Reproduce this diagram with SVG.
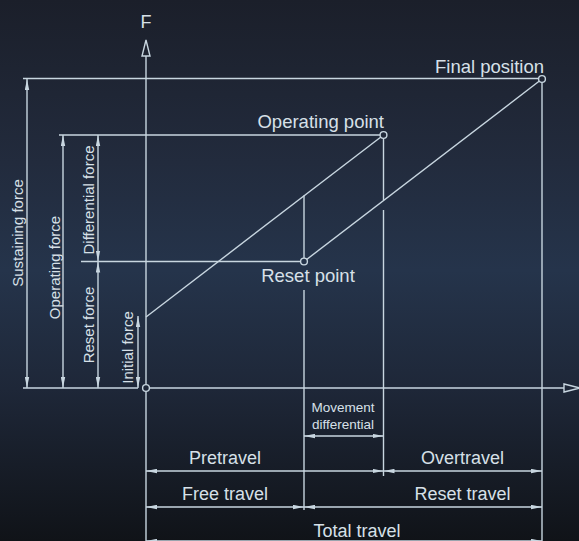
<svg xmlns="http://www.w3.org/2000/svg" width="579" height="541" viewBox="0 0 579 541">
  <defs>
    <linearGradient id="bg" gradientUnits="userSpaceOnUse" x1="0" y1="0" x2="0" y2="541">
      <stop offset="0" stop-color="#1b1f2a"/>
      <stop offset="0.3" stop-color="#222b3d"/>
      <stop offset="0.5" stop-color="#25344b"/>
      <stop offset="0.72" stop-color="#1e2738"/>
      <stop offset="1" stop-color="#101318"/>
    </linearGradient>
    <marker id="dim" viewBox="0 0 11 5" refX="11" refY="2.5" markerWidth="11" markerHeight="5" markerUnits="userSpaceOnUse" orient="auto-start-reverse">
      <path d="M0,0.3 L11,2.5 L0,4.7 z" fill="#c8d6e0"/>
    </marker>
    <style>
      .ln { stroke: #c8d6e0; stroke-width: 1.4; fill: none; }
      .dm { stroke: #c8d6e0; stroke-width: 1.4; fill: none; marker-start: url(#dim); marker-end: url(#dim); }
      .pt { stroke: #c8d6e0; stroke-width: 1.4; fill: url(#bg); }
      .t { font-family: "Liberation Sans", Arial, sans-serif; fill: #d7e0e8; }
      .big { font-size: 18.5px; }
      .mid { font-size: 18px; }
      .vert { font-size: 15px; text-anchor: middle; }
      .sm { font-size: 13.5px; text-anchor: middle; }
    </style>
  </defs>
  <rect x="0" y="0" width="579" height="541" fill="url(#bg)"/>

  <g id="connectors">
    <!-- axes -->
    <line class="ln" x1="146" y1="56" x2="146" y2="384.5"/>
    <line class="ln" x1="146" y1="391.5" x2="146" y2="541"/>
    <polygon class="ln" points="146,40 142,56 150,56"/>
    <line class="ln" x1="149.5" y1="388" x2="564" y2="388"/>
    <polygon class="ln" points="580,388 564,384 564,392"/>
    <!-- horizontal extension lines -->
    <line class="ln" x1="23" y1="78.5" x2="538.8" y2="78.5"/>
    <line class="ln" x1="59" y1="135" x2="380.3" y2="135"/>
    <line class="ln" x1="81" y1="261.5" x2="300.8" y2="261.5"/>
    <line class="ln" x1="23" y1="388" x2="138" y2="388"/>
    <!-- vertical extension lines -->
    <line class="ln" x1="304" y1="195.5" x2="304" y2="258.3"/>
    <line class="ln" x1="304" y1="290" x2="304" y2="510"/>
    <line class="ln" x1="383.5" y1="138.2" x2="383.5" y2="200"/>
    <line class="ln" x1="383.5" y1="210" x2="383.5" y2="476"/>
    <line class="ln" x1="542" y1="82.2" x2="542" y2="541"/>
    <!-- characteristic lines -->
    <line class="ln" x1="146" y1="317" x2="383.5" y2="135"/>
    <line class="ln" x1="304" y1="261.5" x2="542" y2="79"/>
    <!-- force dimensions -->
    <line class="dm" x1="27" y1="79" x2="27" y2="388"/>
    <line class="dm" x1="63" y1="135" x2="63" y2="388"/>
    <line class="dm" x1="98" y1="135" x2="98" y2="261.5"/>
    <line class="dm" x1="98" y1="261.5" x2="98" y2="388"/>
    <line class="dm" x1="138" y1="316" x2="138" y2="388"/>
    <!-- travel dimensions -->
    <line class="dm" x1="304" y1="436" x2="383.5" y2="436"/>
    <line class="dm" x1="146" y1="471" x2="383.5" y2="471"/>
    <line class="dm" x1="383.5" y1="471" x2="542" y2="471"/>
    <line class="dm" x1="146" y1="507" x2="304" y2="507"/>
    <line class="dm" x1="304" y1="507" x2="542" y2="507"/>
    <line class="dm" x1="146" y1="541" x2="542" y2="541"/>
  </g>

  <g id="axis-f">
    <text class="t mid" x="146" y="28" text-anchor="middle">F</text>
  </g>
  <g id="origin">
    <circle class="pt" cx="146" cy="388" r="3.4"/>
  </g>
  <g id="final-position">
    <circle class="pt" cx="542" cy="79" r="3.4"/>
    <text class="t big" x="544" y="73" text-anchor="end">Final position</text>
  </g>
  <g id="operating-point">
    <circle class="pt" cx="383.5" cy="135" r="3.4"/>
    <text class="t big" x="384" y="128" text-anchor="end">Operating point</text>
  </g>
  <g id="reset-point">
    <circle class="pt" cx="304" cy="261.5" r="3.4"/>
    <text class="t big" x="308" y="282" text-anchor="middle">Reset point</text>
  </g>

  <g id="sustaining-force">
    <text class="t vert" transform="translate(22.5,233) rotate(-90)">Sustaining force</text>
  </g>
  <g id="operating-force">
    <text class="t vert" transform="translate(60,267.5) rotate(-90)">Operating force</text>
  </g>
  <g id="differential-force">
    <text class="t vert" transform="translate(94,200) rotate(-90)">Differential force</text>
  </g>
  <g id="reset-force">
    <text class="t vert" transform="translate(94,325) rotate(-90)">Reset force</text>
  </g>
  <g id="initial-force">
    <text class="t vert" transform="translate(133,347.5) rotate(-90)">Initial force</text>
  </g>

  <g id="movement-differential">
    <text class="t sm" x="343" y="411.5">Movement</text>
    <text class="t sm" x="343" y="428.7">differential</text>
  </g>
  <g id="pretravel">
    <text class="t mid" x="225" y="464" text-anchor="middle">Pretravel</text>
  </g>
  <g id="overtravel">
    <text class="t mid" x="462.5" y="464" text-anchor="middle">Overtravel</text>
  </g>
  <g id="free-travel">
    <text class="t mid" x="225" y="500" text-anchor="middle">Free travel</text>
  </g>
  <g id="reset-travel">
    <text class="t mid" x="462.5" y="500" text-anchor="middle">Reset travel</text>
  </g>
  <g id="total-travel">
    <text class="t mid" x="357" y="537" text-anchor="middle">Total travel</text>
  </g>
</svg>
